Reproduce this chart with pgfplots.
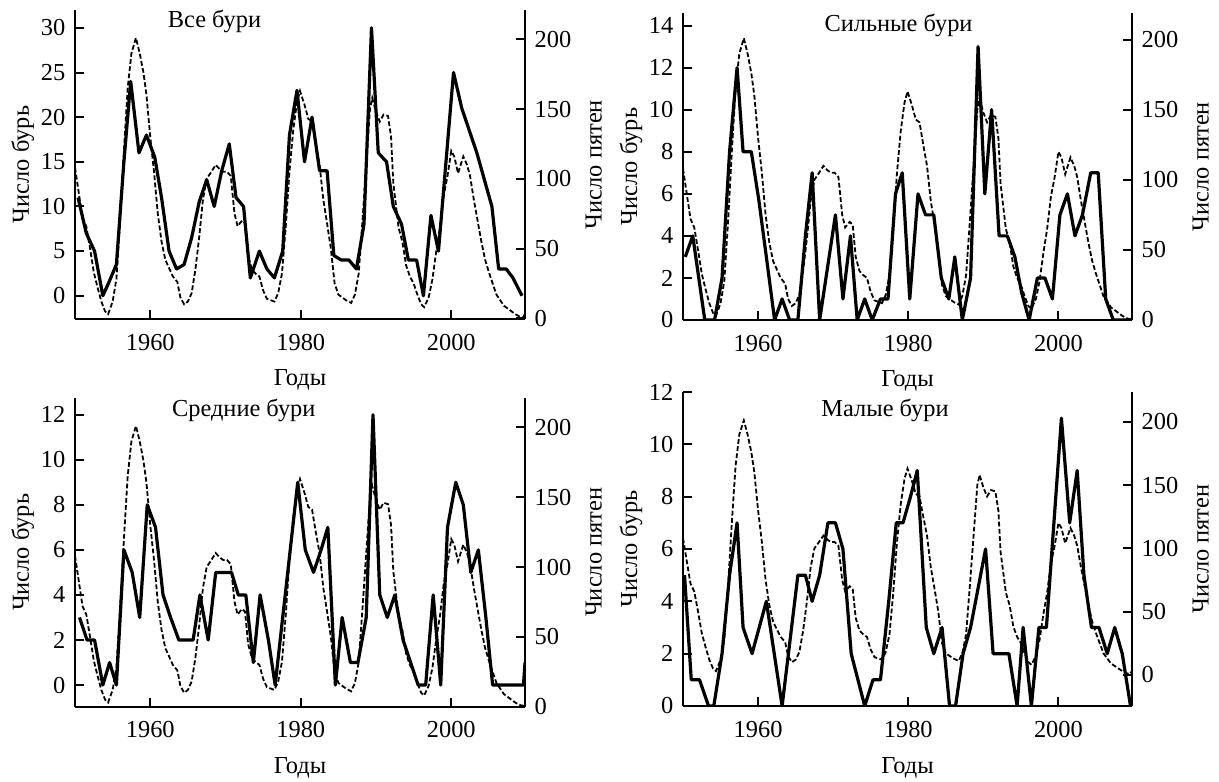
\documentclass[border=0pt]{standalone}
\usepackage{fontspec}
\setmainfont{Liberation Serif}
\usepackage{pgfplots}
\usepackage{pgfplotstable}
\pgfplotsset{compat=1.18}

\newcommand\lbl{\fontsize{12.2}{14}\selectfont}

% storms per year (solid), one table per panel
\pgfplotstableread{
yr n
1950.4 11
1951.5 7
1952.6 5
1953.7 0
1954.5 1.5
1955.5 3.5
1956.5 15
1957.4 24
1958.5 16
1959.5 18
1960.6 15.5
1961.5 11
1962.5 5
1963.5 3
1964.5 3.5
1965.5 6.5
1966.5 10.5
1967.5 13
1968.5 10
1969.5 14
1970.5 17
1971.4 11
1972.4 10
1973.3 2
1974.5 5
1975.5 3
1976.5 2
1977.6 5
1978.5 18
1979.5 23
1980.5 15
1981.5 20
1982.5 14
1983.5 14
1984.4 4.5
1985.4 4
1986.4 4
1987.4 3
1988.4 8
1989.4 30
1990.3 16
1991.4 15
1992.3 10
1993.4 8
1994.3 4
1995.4 4
1996.3 0
1997.3 9
1998.3 5
1999.3 15
2000.3 25
2001.4 21
2002.4 18.5
2003.4 16
2004.4 13
2005.4 10
2006.3 3
2007.3 3
2008.2 2
2009.4 0
}\tabAll

\pgfplotstableread{
yr n
1950.3 3
1951.3 4
1952.9 0
1954.2 0
1955.2 2
1956.2 8
1957.2 12
1958.0 8
1959.1 8
1960.1 5.7
1961.1 3
1962.2 0
1963.2 1
1964.2 0
1965.3 0
1966.3 4
1967.2 7
1968.2 0
1970.3 5
1971.3 1
1972.3 4
1973.2 0
1974.2 1
1975.2 0
1976.3 1
1977.3 1
1978.3 6
1979.2 7
1980.2 1
1981.3 6
1982.3 5
1983.4 5
1984.4 2
1985.4 1
1986.2 3
1987.2 0
1988.3 2
1989.3 13
1990.2 6
1991.1 10
1992.1 4
1993.2 4
1994.2 3
1995.1 1.3
1996.1 0
1997.2 2
1998.2 2
1999.2 1
2000.2 5
2001.2 6
2002.2 4
2003.2 5
2004.3 7
2005.3 7
2006.3 1
2007.3 0
2009.8 0
}\tabStrong

\pgfplotstableread{
yr n
1950.6 3
1951.6 2
1952.6 2
1953.7 0
1954.6 1
1955.5 0
1956.5 6
1957.6 5
1958.6 3
1959.6 8
1960.7 7
1961.7 4
1962.7 3
1963.8 2
1965.7 2
1966.6 4
1967.7 2
1968.7 5
1970.8 5
1971.7 4
1972.7 4
1973.7 1
1974.6 4
1975.7 2
1976.6 0
1979.6 9
1980.6 6
1981.7 5
1982.7 6
1983.6 7
1984.6 0
1985.5 3
1986.6 1
1987.6 1
1988.7 3
1989.6 12
1990.5 4
1991.5 3
1992.5 4
1993.6 2
1994.6 1
1995.6 0
1996.6 0
1997.6 4
1998.6 0
1999.5 7
2000.6 9
2001.6 8
2002.6 5
2003.6 6
2004.6 3
2005.5 0
2009.6 0
2009.8 1
}\tabMed

\pgfplotstableread{
yr n
1950.2 5
1951.1 1
1952.2 1
1953.4 0
1954.1 0
1955.2 2
1956.2 5
1957.2 7
1958.0 3
1959.2 2
1961.1 4
1963.2 0
1965.3 5
1966.3 5
1967.2 4
1968.2 5
1969.3 7
1970.3 7
1971.3 6
1972.4 2
1974.2 0
1975.3 1
1976.3 1
1977.4 4
1978.4 7
1979.3 7
1980.3 8
1981.2 9
1982.4 3
1983.4 2
1984.5 3
1985.5 0
1986.3 0
1987.3 2
1988.3 3
1990.3 6
1991.3 2
1993.4 2
1994.5 0
1995.3 3
1996.4 0
1997.4 3
1998.4 3
2000.4 11
2001.5 7
2002.5 9
2003.4 5
2004.4 3
2005.4 3
2006.5 2
2007.5 3
2008.5 2
2009.6 0
}\tabWeak

% sunspot number (dashed), same in every panel
\pgfplotstableread{
yr s
1950.0 108
1950.5 90
1951.0 72
1951.5 66
1952.0 50
1952.5 33
1953.0 22
1953.5 12
1954.0 5
1954.4 3
1955.0 12
1955.5 28
1956.0 70
1956.5 120
1957.0 165
1957.5 190
1958.1 201
1958.6 190
1959.1 176
1959.5 160
1960.0 130
1960.5 105
1961.0 75
1961.5 55
1962.0 42
1962.5 36
1963.0 30
1963.6 26
1964.0 15
1964.5 10
1965.0 12
1965.5 18
1966.0 35
1966.5 58
1967.0 85
1967.5 100
1968.0 104
1968.7 110
1969.2 107
1969.7 105
1970.2 105
1970.7 102
1971.2 75
1971.6 66
1972.2 70
1972.6 68
1973.0 45
1973.5 35
1974.0 32
1974.5 30
1975.0 20
1975.5 14
1976.0 13
1976.5 12
1977.0 18
1977.5 32
1978.0 65
1978.5 105
1979.0 135
1979.5 155
1979.9 163
1980.5 153
1981.0 143
1981.5 141
1982.0 125
1982.5 110
1983.0 85
1983.5 68
1984.0 50
1984.5 25
1985.0 17
1985.5 15
1986.0 13
1986.7 11
1987.2 17
1987.7 32
1988.2 70
1988.7 110
1989.2 150
1989.5 158
1990.0 148
1990.5 141
1991.0 146
1991.6 145
1992.0 130
1992.3 97
1993.0 65
1993.5 55
1994.0 38
1994.5 30
1995.0 25
1995.5 17
1996.0 10
1996.4 8
1997.0 15
1997.5 28
1998.0 48
1998.5 65
1999.0 88
1999.5 102
2000.0 120
2000.4 116
2000.9 104
2001.6 116
2002.1 110
2002.5 102
2003.0 85
2003.5 70
2004.0 55
2004.5 42
2005.0 33
2005.5 25
2006.0 17
2006.5 13
2007.0 9
2007.5 7
2008.0 5
2008.5 3
2009.0 1.5
2009.5 0.5
2009.8 3
}\tabSpots

\pgfplotsset{
  base/.style={
    scale only axis,
    xmin=1950, xmax=2009.8,
    clip mode=individual,
    tick align=inside,
    major tick length=4.5pt,
    every tick/.style={black, line width=1pt},
    axis line style={line width=1pt},
    tick label style={font=\lbl},
    label style={font=\lbl},
    /pgf/number format/assume math mode=true,
    /pgf/number format/1000 sep={},
    yticklabel shift=1.3pt,
  },
  storms/.style={base,
    axis x line*=bottom, axis y line*=left,
    xtick={1960,1980,2000}, xticklabel shift=4pt,
    xlabel={Годы}, ylabel={Число бурь},
    xlabel style={at={(axis description cs:0.5,-0.197)}, anchor=center},
    ylabel style={at={(axis description cs:-0.116,0.5)}, anchor=center},
  },
  spots/.style={base,
    axis x line=none, axis y line*=right,
    ytick={0,50,...,200}, ylabel={Число пятен},
    ylabel style={at={(axis description cs:1.153,0.5)}, anchor=center},
  },
  stormline/.style={black, line width=1.6pt, line join=round},
  spotline/.style={black, line width=0.9pt, dash pattern=on 2.4pt off 1.2pt},
}

\begin{document}
\begin{tikzpicture}
\useasboundingbox (0,0) rectangle (609.5pt,390.5pt);

% top left
\begin{axis}[storms, at={(37.5pt,231pt)}, anchor=south west,
  width=225pt, height=154.5pt, ymin=-2.6, ymax=32, ytick={0,5,...,30}]
\addplot[stormline] table[x=yr,y=n]{\tabAll};
\node[font=\lbl] at (rel axis cs:0.31,0.962) {Все бури};
\end{axis}
\begin{axis}[spots, at={(37.5pt,231pt)}, anchor=south west,
  width=225pt, height=154.5pt, ymin=-0.5, ymax=221]
\addplot[spotline] table[x=yr,y=s]{\tabSpots};
\end{axis}

% top right
\begin{axis}[storms, at={(341.5pt,230.5pt)}, anchor=south west,
  width=224.5pt, height=153.5pt, ymin=0, ymax=14.6, ytick={0,2,...,14}]
\addplot[stormline] table[x=yr,y=n]{\tabStrong};
\node[font=\lbl] at (rel axis cs:0.48,0.961) {Сильные бури};
\end{axis}
\begin{axis}[spots, at={(341.5pt,230.5pt)}, anchor=south west,
  width=224.5pt, height=153.5pt, ymin=0, ymax=219]
\addplot[spotline] table[x=yr,y=s]{\tabSpots};
\end{axis}

% bottom left
\begin{axis}[storms, at={(37.5pt,37.15pt)}, anchor=south west,
  width=225pt, height=154.35pt, ymin=-0.96, ymax=12.74, ytick={0,2,...,12}]
\addplot[stormline] table[x=yr,y=n]{\tabMed};
\node[font=\lbl] at (rel axis cs:0.375,0.961) {Средние бури};
\end{axis}
\begin{axis}[spots, at={(37.5pt,37.15pt)}, anchor=south west,
  width=225pt, height=154.35pt, ymin=0, ymax=221]
\addplot[spotline] table[x=yr,y=s]{\tabSpots};
\end{axis}

% bottom right
\begin{axis}[storms, at={(341.5pt,37.5pt)}, anchor=south west,
  width=224.5pt, height=157pt, ymin=0, ymax=12, ytick={0,2,...,12}]
\addplot[stormline] table[x=yr,y=n]{\tabWeak};
\node[font=\lbl] at (rel axis cs:0.45,0.94) {Малые бури};
\end{axis}
\begin{axis}[spots, at={(341.5pt,37.5pt)}, anchor=south west,
  width=224.5pt, height=157pt, ymin=-24.6, ymax=223.5]
\addplot[spotline] table[x=yr,y=s]{\tabSpots};
\end{axis}
\end{tikzpicture}
\end{document}
